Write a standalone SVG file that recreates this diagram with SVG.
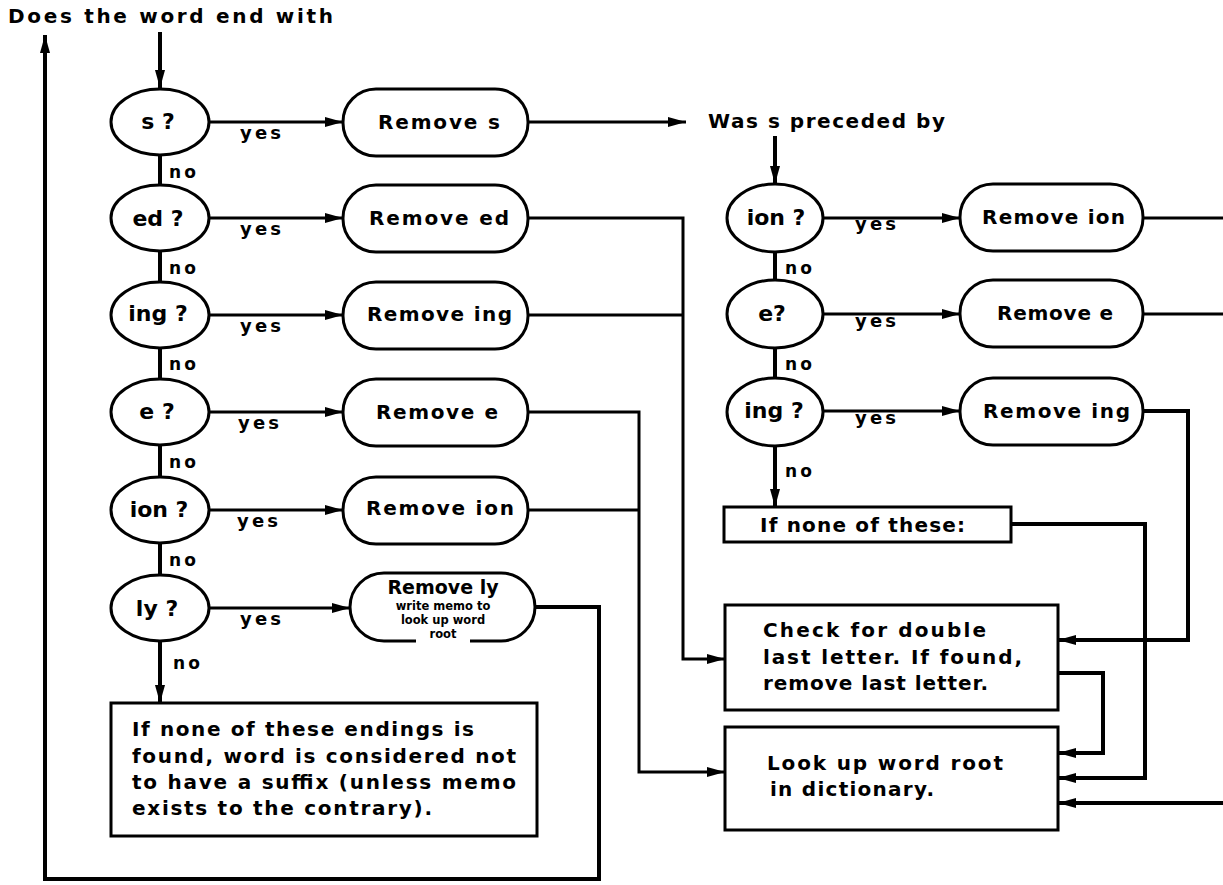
<svg xmlns="http://www.w3.org/2000/svg" width="1223" height="885" viewBox="0 0 1223 885">
<style>
.t{font-family:"DejaVu Sans","Liberation Sans",sans-serif;font-weight:700;fill:#000}
.shape{fill:#fff;stroke:#000;stroke-width:3}
.c{fill:none;stroke:#000;stroke-width:3}
.ck{fill:none;stroke:#000;stroke-width:4}
.yes{font-size:18px}
.no{font-size:17px}
.node{font-size:20px}
.q{font-size:22px;text-anchor:middle}
.box{font-size:20px}
</style>
<defs>
<marker id="ah" viewBox="0 0 18 10" refX="18" refY="5" markerWidth="18" markerHeight="10" markerUnits="userSpaceOnUse" orient="auto">
<path d="M0,0 L18,5 L0,10 z" fill="#000"/>
</marker>
</defs>
<rect width="1223" height="885" fill="#fff"/>
<g id="title">
<text class="t" x="8" y="23" font-size="20" textLength="325" lengthAdjust="spacing">Does the word end with</text>
</g>
<g id="connectors">
<line class="ck" x1="160" y1="32" x2="160" y2="88" marker-end="url(#ah)"/>
<line class="ck" x1="775" y1="136" x2="775" y2="184" marker-end="url(#ah)"/>
<line class="c" x1="209" y1="122" x2="343" y2="122" marker-end="url(#ah)"/>
<line class="c" x1="209" y1="218" x2="343" y2="218" marker-end="url(#ah)"/>
<line class="c" x1="209" y1="315" x2="343" y2="315" marker-end="url(#ah)"/>
<line class="c" x1="209" y1="412" x2="343" y2="412" marker-end="url(#ah)"/>
<line class="c" x1="209" y1="510" x2="343" y2="510" marker-end="url(#ah)"/>
<line class="c" x1="209" y1="608" x2="350" y2="608" marker-end="url(#ah)"/>
<g class="t yes">
<text x="240" y="139" textLength="41" lengthAdjust="spacing">yes</text>
<text x="240" y="235" textLength="41" lengthAdjust="spacing">yes</text>
<text x="240" y="332" textLength="41" lengthAdjust="spacing">yes</text>
<text x="238" y="429" textLength="41" lengthAdjust="spacing">yes</text>
<text x="237" y="527" textLength="41" lengthAdjust="spacing">yes</text>
<text x="240" y="625" textLength="41" lengthAdjust="spacing">yes</text>
</g>
<line class="ck" x1="160" y1="155" x2="160" y2="185"/>
<line class="ck" x1="160" y1="251" x2="160" y2="282"/>
<line class="ck" x1="160" y1="348" x2="160" y2="379"/>
<line class="ck" x1="160" y1="445" x2="160" y2="477"/>
<line class="ck" x1="160" y1="543" x2="160" y2="575"/>
<line class="ck" x1="160" y1="641" x2="160" y2="703" marker-end="url(#ah)"/>
<g class="t no">
<text x="169" y="178" textLength="27" lengthAdjust="spacing">no</text>
<text x="169" y="274" textLength="27" lengthAdjust="spacing">no</text>
<text x="169" y="370" textLength="27" lengthAdjust="spacing">no</text>
<text x="169" y="468" textLength="27" lengthAdjust="spacing">no</text>
<text x="169" y="566" textLength="27" lengthAdjust="spacing">no</text>
<text x="173" y="669" textLength="27" lengthAdjust="spacing">no</text>
</g>
<line class="c" x1="528" y1="122" x2="686" y2="122" marker-end="url(#ah)"/>
<polyline class="c" points="528,218 683,218 683,659 725,659" marker-end="url(#ah)"/>
<line class="c" x1="528" y1="315" x2="683" y2="315"/>
<polyline class="c" points="528,412 639,412 639,772 725,772" marker-end="url(#ah)"/>
<line class="c" x1="528" y1="510" x2="639" y2="510"/>
<polyline class="ck" points="535,607 599,607 599,879 45,879 45,35" marker-end="url(#ah)"/>
<line class="c" x1="823" y1="218" x2="960" y2="218" marker-end="url(#ah)"/>
<line class="c" x1="823" y1="314" x2="960" y2="314" marker-end="url(#ah)"/>
<line class="c" x1="823" y1="411" x2="960" y2="411" marker-end="url(#ah)"/>
<g class="t yes">
<text x="855" y="230" textLength="41" lengthAdjust="spacing">yes</text>
<text x="855" y="327" textLength="41" lengthAdjust="spacing">yes</text>
<text x="855" y="424" textLength="41" lengthAdjust="spacing">yes</text>
</g>
<line class="ck" x1="775" y1="252" x2="775" y2="281"/>
<line class="ck" x1="775" y1="348" x2="775" y2="378"/>
<line class="ck" x1="775" y1="446" x2="775" y2="507" marker-end="url(#ah)"/>
<g class="t no">
<text x="785" y="274" textLength="27" lengthAdjust="spacing">no</text>
<text x="785" y="370" textLength="27" lengthAdjust="spacing">no</text>
<text x="785" y="477" textLength="27" lengthAdjust="spacing">no</text>
</g>
<line class="c" x1="1143" y1="218" x2="1223" y2="218"/>
<line class="c" x1="1143" y1="314" x2="1223" y2="314"/>
<polyline class="ck" points="1143,411 1188,411 1188,640 1058,640" marker-end="url(#ah)"/>
<polyline class="ck" points="1011,524 1145,524 1145,778 1058,778" marker-end="url(#ah)"/>
<polyline class="ck" points="1058,673 1103,673 1103,753 1058,753" marker-end="url(#ah)"/>
<line class="ck" x1="1223" y1="803" x2="1058" y2="803" marker-end="url(#ah)"/>
</g>
<g id="q-s"><ellipse class="shape" cx="160" cy="122" rx="49" ry="33"/><text class="t q" x="158" y="129">s ?</text></g>
<g id="q-ed"><ellipse class="shape" cx="160" cy="218" rx="49" ry="33"/><text class="t q" x="158" y="226">ed ?</text></g>
<g id="q-ing"><ellipse class="shape" cx="160" cy="315" rx="49" ry="33"/><text class="t q" x="158" y="321">ing ?</text></g>
<g id="q-e"><ellipse class="shape" cx="160" cy="412" rx="49" ry="33"/><text class="t q" x="157" y="419">e ?</text></g>
<g id="q-ion"><ellipse class="shape" cx="160" cy="510" rx="49" ry="33"/><text class="t q" x="159" y="517">ion ?</text></g>
<g id="q-ly"><ellipse class="shape" cx="160" cy="608" rx="49" ry="33"/><text class="t q" x="157" y="616" font-size="25">ly ?</text></g>
<g id="r-s"><rect class="shape" x="343" y="89" width="185" height="67" rx="33"/><text class="t node" x="378" y="129" textLength="122" lengthAdjust="spacing">Remove  s</text></g>
<g id="r-ed"><rect class="shape" x="343" y="185" width="185" height="67" rx="33"/><text class="t node" x="369" y="225" textLength="140" lengthAdjust="spacing">Remove ed</text></g>
<g id="r-ing"><rect class="shape" x="343" y="282" width="185" height="67" rx="33"/><text class="t node" x="367" y="321" textLength="145" lengthAdjust="spacing">Remove ing</text></g>
<g id="r-e"><rect class="shape" x="343" y="379" width="185" height="67" rx="33"/><text class="t node" x="376" y="419" textLength="122" lengthAdjust="spacing">Remove e</text></g>
<g id="r-ion"><rect class="shape" x="343" y="477" width="185" height="67" rx="33"/><text class="t node" x="366" y="515" textLength="148" lengthAdjust="spacing">Remove ion</text></g>
<g id="r-ly">
<rect class="shape" x="350" y="573" width="185" height="68" rx="34"/>
<rect x="416" y="630" width="54" height="14" fill="#fff"/>
<text class="t" x="443" y="594" font-size="19" text-anchor="middle">Remove ly</text>
<text class="t" x="443" y="610" font-size="11.5" text-anchor="middle">write memo to</text>
<text class="t" x="443" y="624" font-size="11.5" text-anchor="middle">look up word</text>
<text class="t" x="443" y="638" font-size="11.5" text-anchor="middle">root</text>
</g>
<g id="none-left">
<rect class="shape" x="111" y="703" width="426" height="133"/>
<g class="t box">
<text x="132" y="736" textLength="342" lengthAdjust="spacing">If none of these endings is</text>
<text x="132" y="763" textLength="384" lengthAdjust="spacing">found, word is considered not</text>
<text x="132" y="789" textLength="384" lengthAdjust="spacing">to have a suffix (unless memo</text>
<text x="132" y="815" textLength="300" lengthAdjust="spacing">exists to the contrary).</text>
</g>
</g>
<g id="was-s">
<text class="t" x="708" y="128" font-size="20" textLength="237" lengthAdjust="spacing">Was s preceded by</text>
</g>
<g id="q2-ion"><ellipse class="shape" cx="775" cy="218" rx="48" ry="34"/><text class="t q" x="776" y="225">ion ?</text></g>
<g id="q2-e"><ellipse class="shape" cx="775" cy="314" rx="48" ry="34"/><text class="t q" x="772" y="321">e?</text></g>
<g id="q2-ing"><ellipse class="shape" cx="775" cy="412" rx="48" ry="34"/><text class="t q" x="774" y="418">ing ?</text></g>
<g id="r2-ion"><rect class="shape" x="960" y="184" width="183" height="67" rx="33"/><text class="t node" x="982" y="224" textLength="143" lengthAdjust="spacing">Remove ion</text></g>
<g id="r2-e"><rect class="shape" x="960" y="280" width="183" height="67" rx="33"/><text class="t node" x="997" y="320" textLength="116" lengthAdjust="spacing">Remove e</text></g>
<g id="r2-ing"><rect class="shape" x="960" y="378" width="183" height="67" rx="33"/><text class="t node" x="983" y="418" textLength="147" lengthAdjust="spacing">Remove ing</text></g>
<g id="none-right"><rect class="shape" x="724" y="507" width="287" height="35"/><text class="t box" x="760" y="532" textLength="205" lengthAdjust="spacing">If none of these:</text></g>
<g id="check">
<rect class="shape" x="725" y="605" width="333" height="105"/>
<g class="t box">
<text x="763" y="637" textLength="223" lengthAdjust="spacing">Check for double</text>
<text x="763" y="664" textLength="259" lengthAdjust="spacing">last letter.  If found,</text>
<text x="763" y="690" textLength="225" lengthAdjust="spacing">remove last letter.</text>
</g>
</g>
<g id="lookup">
<rect class="shape" x="725" y="727" width="333" height="103"/>
<g class="t box">
<text x="767" y="770" textLength="236" lengthAdjust="spacing">Look up word root</text>
<text x="770" y="796" textLength="164" lengthAdjust="spacing">in dictionary.</text>
</g>
</g>
</svg>
